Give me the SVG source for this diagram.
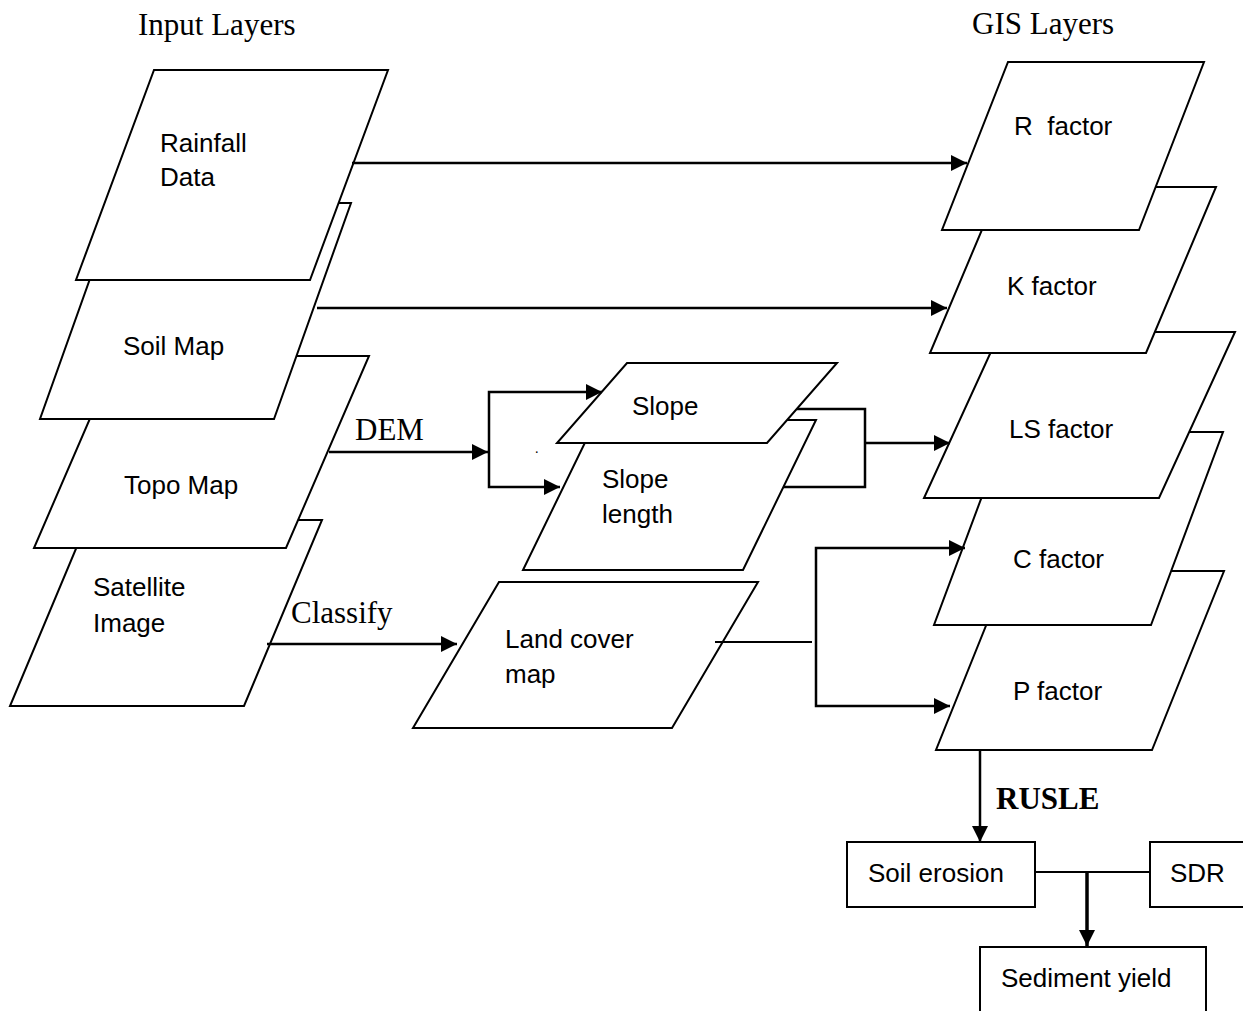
<svg xmlns="http://www.w3.org/2000/svg" width="1243" height="1011" viewBox="0 0 1243 1011">
<style>
.shape{fill:#fff;stroke:#000;stroke-width:2;stroke-linejoin:miter}
.lbl{font-family:"Liberation Sans",Arial,sans-serif;font-size:26px;fill:#000}
.ser{font-family:"Liberation Serif","Times New Roman",serif;font-size:31px;fill:#000}
.bold{font-weight:bold}
.conn path{fill:none;stroke:#000;stroke-width:2.5}
</style>
<defs>
<marker id="arr" markerUnits="userSpaceOnUse" markerWidth="17" markerHeight="17" refX="16" refY="8" orient="auto">
<path d="M0,0 L16,8 L0,16 z" fill="#000"/>
</marker>
</defs>
<rect x="0" y="0" width="1243" height="1011" fill="#fff"/>
<text class="ser" x="138" y="35">Input Layers</text>
<text class="ser" x="972" y="34">GIS Layers</text>

<g id="satellite"><polygon class="shape" points="88,520 322,520 244,706 10,706"/><text class="lbl" x="93" y="596">Satellite</text><text class="lbl" x="93" y="632">Image</text></g>
<g id="topo"><polygon class="shape" points="117,356 369,356 286,548 34,548"/><text class="lbl" x="124" y="494">Topo Map</text></g>
<g id="soil"><polygon class="shape" points="117,203 351,203 274,419 40,419"/><text class="lbl" x="123" y="355">Soil Map</text></g>
<g id="rainfall"><polygon class="shape" points="154,70 388,70 310,280 76,280"/><text class="lbl" x="160" y="152">Rainfall</text><text class="lbl" x="160" y="186">Data</text></g>

<g id="slopelength"><polygon class="shape" points="596,420 816,420 743,570 523,570"/><text class="lbl" x="602" y="488">Slope</text><text class="lbl" x="602" y="523">length</text></g>
<g id="slope"><polygon class="shape" points="627,363 837,363 767,443 557,443"/><text class="lbl" x="632" y="415">Slope</text></g>
<g id="landcover"><polygon class="shape" points="499,582 758,582 672,728 413,728"/><text class="lbl" x="505" y="648">Land cover</text><text class="lbl" x="505" y="683">map</text></g>

<g id="pfactor"><polygon class="shape" points="1008,571 1224,571 1152,750 936,750"/><text class="lbl" x="1013" y="700">P factor</text></g>
<g id="cfactor"><polygon class="shape" points="1006,432 1223,432 1151,625 934,625"/><text class="lbl" x="1013" y="568">C factor</text></g>
<g id="lsfactor"><polygon class="shape" points="1000,332 1235,332 1159,498 924,498"/><text class="lbl" x="1009" y="438">LS factor</text></g>
<g id="kfactor"><polygon class="shape" points="1000,187 1216,187 1146,353 930,353"/><text class="lbl" x="1007" y="295">K factor</text></g>
<g id="rfactor"><polygon class="shape" points="1008,62 1204,62 1139,230 942,230"/><text class="lbl" x="1014" y="135" xml:space="preserve">R  factor</text></g>

<g id="soilerosion"><rect class="shape" x="847" y="842" width="188" height="65"/><text class="lbl" x="868" y="882">Soil erosion</text></g>
<g id="sdr"><rect class="shape" x="1150" y="842" width="120" height="65"/><text class="lbl" x="1170" y="882">SDR</text></g>
<g id="sediment"><rect class="shape" x="980" y="947" width="226" height="80"/><text class="lbl" x="1001" y="987">Sediment yield</text></g>

<g id="connectors" class="conn">
<path d="M352,163 H967" marker-end="url(#arr)"/>
<path d="M317,308 H947" marker-end="url(#arr)"/>
<path d="M329,452 H488" marker-end="url(#arr)"/>
<path d="M489,452 V392 H602" marker-end="url(#arr)"/>
<path d="M489,452 V487 H560" marker-end="url(#arr)"/>
<path d="M797,409 H865 V487 H783"/>
<path d="M865,443 H950" marker-end="url(#arr)"/>
<path d="M267,644 H457" marker-end="url(#arr)"/>
<path d="M715,642 H812" style="stroke-width:2"/>
<path d="M816,627 V548 H965" marker-end="url(#arr)"/>
<path d="M816,627 V706 H950" marker-end="url(#arr)"/>
<path d="M980,750 V842" marker-end="url(#arr)"/>
<path d="M1035,872 H1150" style="stroke-width:2"/>
<path d="M1087,872 V946" style="stroke-width:3.5" marker-end="url(#arr)"/>
</g>
<text class="ser" x="355" y="440">DEM</text>
<text class="ser" x="291" y="623">Classify</text>
<text class="ser bold" x="996" y="809">RUSLE</text>
<text class="ser" x="535" y="453" style="font-size:14px">.</text>
</svg>
